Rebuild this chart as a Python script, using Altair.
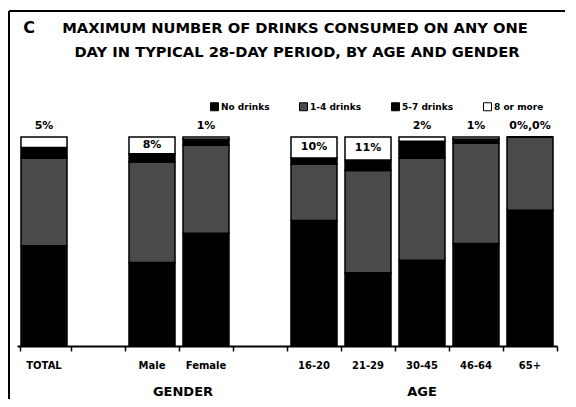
import altair as alt
import pandas as pd

# ---- data ----
categories = ["TOTAL", "Male", "Female", "16-20", "21-29", "30-45", "46-64", "65+"]
slots = ["TOTAL", "gap1", "Male", "Female", "gap2", "16-20", "21-29", "30-45", "46-64", "65+"]
segments = ["No drinks", "1-4 drinks", "5-7 drinks", "8 or more"]
no_drinks = [48, 40, 54, 60, 35, 41, 49, 65]
one_to_four = [42, 48, 42, 27, 49, 49, 48, 35]
five_to_seven = [5, 4, 3, 3, 5, 8, 2, 0]
eight_or_more = [5, 8, 1, 10, 11, 2, 1, 0]
pct_labels = ["5%", "8%", "1%", "10%", "11%", "2%", "1%", "0%,0%"]
title_lines = ["MAXIMUM NUMBER OF DRINKS CONSUMED ON ANY ONE",
               "DAY IN TYPICAL 28-DAY PERIOD, BY AGE AND GENDER"]
panel_letter = "C"
group_labels = ["GENDER", "AGE"]
group_anchor = ["Female", "30-45"]

seg_colors = ["#000000", "#4a4a4a", "#000000", "#ffffff"]

rows = []
series = [no_drinks, one_to_four, five_to_seven, eight_or_more]
for si, (seg, vals) in enumerate(zip(segments, series)):
    for c, v in zip(categories, vals):
        rows.append({"category": c, "segment": seg, "value": v, "idx": si})
df = pd.DataFrame(rows)

lab_rows = []
for c, v, t in zip(categories, eight_or_more, pct_labels):
    ypos = 100 - v / 2 if v >= 8 else 105.2
    lab_rows.append({"category": c, "label": t, "ypos": ypos})
lab_df = pd.DataFrame(lab_rows)

xscale = alt.Scale(domain=slots, paddingInner=0.148, paddingOuter=0.074)
yscale = alt.Scale(domain=[0, 100])
FONT = "DejaVu Sans"

xaxis = alt.Axis(title=None, domainColor="black", domainWidth=2,
                 tickColor="black", tickWidth=1.5, tickSize=5,
                 bandPosition=1.087, tickExtra=True,
                 labelPadding=9, labelFont=FONT, labelFontWeight="bold",
                 labelFontSize=10, labelColor="black", labelAngle=0,
                 grid=False,
                 labelExpr="(datum.label == 'gap1' || datum.label == 'gap2') ? '' : datum.label")

bars = alt.Chart(df).mark_bar(stroke="black", strokeWidth=1.5).encode(
    x=alt.X("category:N", scale=xscale, axis=xaxis),
    y=alt.Y("value:Q", stack="zero", scale=yscale, axis=None),
    color=alt.Color("segment:N", scale=alt.Scale(domain=segments, range=seg_colors),
                    legend=alt.Legend(orient="none", legendX=193, legendY=-35,
                                      direction="horizontal", title=None,
                                      symbolType="square", symbolSize=64,
                                      symbolStrokeColor="black", symbolStrokeWidth=1,
                                      labelFont=FONT, labelFontWeight="bold",
                                      labelFontSize=9, labelColor="black",
                                      columnPadding=27, labelOffset=2)),
    order=alt.Order("idx:Q", sort="ascending"),
)

labels = alt.Chart(lab_df).mark_text(font=FONT, fontWeight="bold", fontSize=11,
                                     baseline="middle", align="center", color="black").encode(
    x=alt.X("category:N", scale=xscale, axis=xaxis),
    y=alt.Y("ypos:Q", scale=yscale, axis=None),
    text="label:N",
)

g1 = alt.Chart(pd.DataFrame({"category": [group_anchor[0]], "t": [group_labels[0]]})).mark_text(
    font=FONT, fontWeight="bold", fontSize=13, baseline="alphabetic", align="center", color="black"
).encode(x=alt.X("category:N", scale=xscale, axis=xaxis, bandPosition=0), y=alt.value(259), text="t:N")

g2 = alt.Chart(pd.DataFrame({"category": [group_anchor[1]], "t": [group_labels[1]]})).mark_text(
    font=FONT, fontWeight="bold", fontSize=13, baseline="alphabetic", align="center", color="black"
).encode(x=alt.X("category:N", scale=xscale, axis=xaxis), y=alt.value(259), text="t:N")

one = pd.DataFrame({"a": [0]})
t_letter = alt.Chart(one).mark_text(text=panel_letter, font=FONT, fontWeight="bold", fontSize=16,
                                    baseline="alphabetic", align="center", color="black").encode(
    x=alt.value(12), y=alt.value(-104))
t_line1 = alt.Chart(one).mark_text(text=title_lines[0], font=FONT, fontWeight="bold", fontSize=14.7,
                                   baseline="alphabetic", align="center", color="black").encode(
    x=alt.value(278), y=alt.value(-104))
t_line2 = alt.Chart(one).mark_text(text=title_lines[1], font=FONT, fontWeight="bold", fontSize=14.7,
                                   baseline="alphabetic", align="center", color="black").encode(
    x=alt.value(280), y=alt.value(-80))

frame_left = alt.Chart(one).mark_rule(color="black", strokeWidth=2).encode(
    x=alt.value(-8), y=alt.value(-126), y2=alt.value(300))
frame_top = alt.Chart(one).mark_rule(color="black", strokeWidth=2).encode(
    x=alt.value(-8), x2=alt.value(600), y=alt.value(-126))

chart = alt.layer(bars, labels, g1, g2, frame_left, frame_top, t_letter, t_line1, t_line2).properties(
    width=540, height=209,
    autosize=alt.AutoSizeParams(type="none"),
    padding={"left": 9, "top": 129, "right": 8, "bottom": 53},
    background="white",
).configure_view(strokeWidth=0)

chart.save("out.html", embed_options={"renderer": "svg", "actions": False})
